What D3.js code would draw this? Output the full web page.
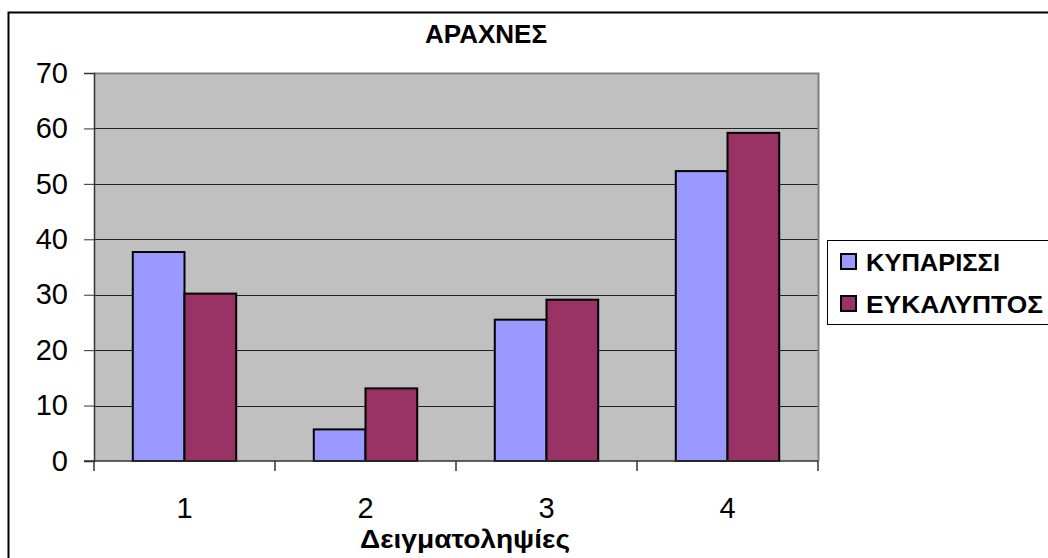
<!DOCTYPE html>
<html>
<head>
<meta charset="utf-8">
<script src="https://cdn.jsdelivr.net/npm/d3@7"></script>
<style>
  html, body { margin: 0; padding: 0; background: #fff; }
  svg { display: block; font-family: Arial, "Liberation Sans", sans-serif; }
</style>
</head>
<body>
<svg id="chart" width="1048" height="558"></svg>
<script>
const categories = ["1", "2", "3", "4"];
const seriesNames = ["ΚΥΠΑΡΙΣΣΙ", "ΕΥΚΑΛΥΠΤΟΣ"];
const kyparissi = [37.7, 5.7, 25.5, 52.3];
const eykalyptos = [30.2, 13.1, 29.1, 59.2];
const yTicks = [0, 10, 20, 30, 40, 50, 60, 70];
const colors = ["#9999FF", "#993366"];
const titleText = "ΑΡΑΧΝΕΣ";
const xTitleText = "Δειγματοληψίες";

const series = [kyparissi, eykalyptos];
const svg = d3.select("#chart");

const plot = { left: 94, right: 818, top: 73, bottom: 461 };

// outer chart border
svg.append("rect")
  .attr("x", 8.5).attr("y", 12.5)
  .attr("width", 1200).attr("height", 700)
  .attr("fill", "#fff").attr("stroke", "#000").attr("stroke-width", 2);

const x0 = d3.scaleBand().domain(categories).range([plot.left, plot.right])
  .paddingInner(0.4286).paddingOuter(0.2143);
const x1 = d3.scaleBand().domain(d3.range(series.length)).range([0, x0.bandwidth()]);
const y = d3.scaleLinear().domain([0, 70]).range([plot.bottom, plot.top]);

// plot area background
svg.append("rect")
  .attr("x", plot.left).attr("y", plot.top)
  .attr("width", plot.right - plot.left).attr("height", plot.bottom - plot.top)
  .attr("fill", "#C0C0C0");

// gridlines
svg.append("g").selectAll("line").data(yTicks.filter(d => d > 0 && d < 70)).join("line")
  .attr("x1", plot.left).attr("x2", plot.right)
  .attr("y1", d => Math.round(y(d)) + 0.5).attr("y2", d => Math.round(y(d)) + 0.5)
  .attr("stroke", "#222").attr("stroke-width", 1);

// plot area border (top/right grey)
svg.append("path")
  .attr("d", `M${plot.left},${plot.top + 0.5}H${plot.right + 0.5}V${plot.bottom}`)
  .attr("fill", "none").attr("stroke", "#808080").attr("stroke-width", 2);

// bars
const groups = svg.append("g").selectAll("g").data(categories).join("g")
  .attr("transform", d => `translate(${x0(d)},0)`);
groups.selectAll("rect").data((c, i) => series.map((s, si) => ({ si, v: s[i] }))).join("rect")
  .attr("x", d => x1(d.si))
  .attr("y", d => y(d.v))
  .attr("width", x1.bandwidth())
  .attr("height", d => y(0) - y(d.v))
  .attr("fill", d => colors[d.si])
  .attr("stroke", "#000").attr("stroke-width", 2);

// y axis
const yAxis = d3.axisLeft(y).tickValues(yTicks).tickSize(10).tickPadding(16);
const gy = svg.append("g").attr("transform", `translate(${plot.left},0)`).call(yAxis);
gy.select(".domain").attr("stroke", "#333").attr("stroke-width", 1.5);
gy.selectAll(".tick line").attr("stroke", "#333");
gy.selectAll("text").attr("font-size", 29).attr("fill", "#000")
  .attr("font-family", "Arial, 'Liberation Sans', sans-serif");

// x axis baseline
svg.append("line")
  .attr("x1", plot.left - 10).attr("x2", plot.right)
  .attr("y1", plot.bottom).attr("y2", plot.bottom)
  .attr("stroke", "#333").attr("stroke-width", 1.5);

// category separator ticks
const step = x0.step();
svg.append("g").selectAll("line").data(d3.range(categories.length + 1)).join("line")
  .attr("x1", i => plot.left + i * step).attr("x2", i => plot.left + i * step)
  .attr("y1", plot.bottom).attr("y2", plot.bottom + 10)
  .attr("stroke", "#333").attr("stroke-width", 1.5);

// category labels
svg.append("g").selectAll("text").data(categories).join("text")
  .attr("x", d => x0(d) + x0.bandwidth() / 2)
  .attr("y", 518)
  .attr("text-anchor", "middle")
  .attr("font-size", 29)
  .text(d => d);

// title
svg.append("text")
  .attr("x", 486).attr("y", 43)
  .attr("text-anchor", "middle")
  .attr("font-size", 25).attr("font-weight", "bold")
  .attr("textLength", 122).attr("lengthAdjust", "spacingAndGlyphs")
  .text(titleText);

// x axis title
svg.append("text")
  .attr("x", 465).attr("y", 548)
  .attr("text-anchor", "middle")
  .attr("font-size", 25).attr("font-weight", "bold")
  .attr("textLength", 210).attr("lengthAdjust", "spacingAndGlyphs")
  .text(xTitleText);

// legend
const legendWidths = [134, 177];
const lg = svg.append("g");
lg.append("rect")
  .attr("x", 827.5).attr("y", 240.5)
  .attr("width", 400).attr("height", 84)
  .attr("fill", "#fff").attr("stroke", "#000").attr("stroke-width", 1);
const rows = lg.selectAll("g.row").data(seriesNames).join("g").attr("class", "row")
  .attr("transform", (d, i) => `translate(0,${i * 42})`);
rows.append("rect")
  .attr("x", 841).attr("y", 254)
  .attr("width", 15).attr("height", 15)
  .attr("fill", (d, i) => colors[i])
  .attr("stroke", "#000").attr("stroke-width", 2);
rows.append("text")
  .attr("x", 866).attr("y", 271)
  .attr("font-size", 24).attr("font-weight", "bold")
  .attr("textLength", (d, i) => legendWidths[i]).attr("lengthAdjust", "spacingAndGlyphs")
  .text(d => d);
</script>
</body>
</html>
